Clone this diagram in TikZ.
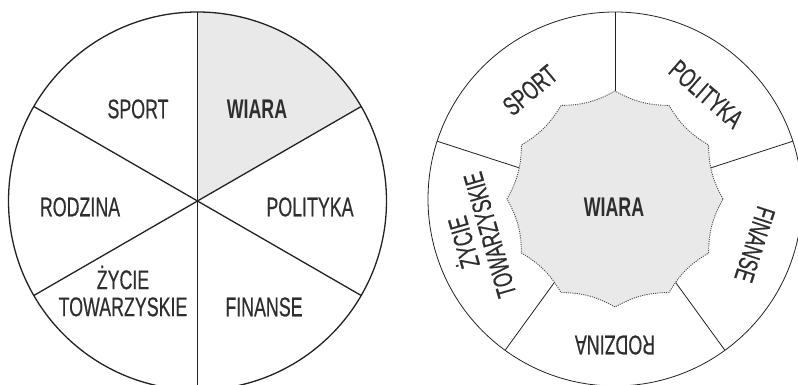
\documentclass[tikz,border=0pt]{standalone}
\usepackage{fontspec}
\setmainfont{Liberation Sans}[UprightFeatures={FakeBold=0.6}]
\usetikzlibrary{calc}
\definecolor{txt}{HTML}{2E2E2E}
\definecolor{shadegray}{HTML}{E9E9E9}
\definecolor{ln}{HTML}{222222}
\newcommand{\cnd}[1]{\scalebox{0.66}[1]{#1}}
\newcommand{\cndtwo}[2]{\scalebox{0.66}[1]{\begin{tabular}{@{}c@{}}#1\\#2\end{tabular}}}
\tikzset{
  lbl/.style={font=\fontsize{27}{27}\selectfont, text=txt, inner sep=0pt, align=center},
  blbl/.style={lbl, font=\fontsize{27}{27}\selectfont\bfseries},
  lline/.style={draw=ln, line width=1.3pt},
  rline/.style={draw=ln, line width=0.8pt},
  starshape/.style={fill=shadegray, draw=txt!85, line width=0.9pt, dash pattern=on 1.1pt off 1.1pt}
}
\begin{document}
\begin{tikzpicture}[x=1pt,y=1pt]
\useasboundingbox (0,0) rectangle (798,385);
\clip (0,0) rectangle (798,385);
\fill[white] (0,0) rectangle (798,385);
% ---------- left pie ----------
\begin{scope}[shift={(197.5,184)}]
  \coordinate (lc) at (0,0);
  \fill[shadegray] (lc) -- (30:189) arc[start angle=30, end angle=90, radius=189pt] -- cycle;
  \draw[lline] (lc) circle[radius=189pt];
  \foreach \a in {90,30,-30} \draw[lline] (\a:189) -- (\a+180:189);
\end{scope}
\node[lbl]  (lsport) at (138,276) {\cnd{SPORT}};
\node[blbl] (lwiara) at (257,276) {\cnd{WIARA}};
\node[lbl]  (lrodz)  at (80,178)  {\cnd{RODZINA}};
\node[lbl]  (lpol)   at (310,178) {\cnd{POLITYKA}};
\node[lbl]  (lzyc)   at (123,90)  {\cndtwo{ŻYCIE}{TOWARZYSKIE}};
\node[lbl]  (lfin)   at (264,78)  {\cnd{FINANSE}};
% ---------- right wheel ----------
\begin{scope}[shift={(615,186)}]
  \coordinate (rc) at (0,0);
  \draw[rline] (rc) circle[radius=187pt];
  \foreach \a in {90,18,-54,-126,162} \draw[rline] (rc) -- (\a:187);
  \filldraw[starshape] (0:108) \foreach \a in {30,60,...,330} { to[bend left=14] (\a:108) } to[bend left=14] cycle;
  \node[lbl, rotate=40]   (rsport) at (128:138) {\cnd{SPORT}};
  \node[lbl, rotate=-41]  (rpol)   at (49:139)  {\cnd{POLITYKA}};
  \node[lbl, rotate=-108] (rfin)   at (-18:147) {\cnd{FINANSE}};
  \node[lbl, rotate=180]  (rrod)   at (-90:146) {\cnd{RODZINA}};
  \node[lbl, rotate=106]  (rzyc)   at (196:142) {\cndtwo{ŻYCIE}{TOWARZYSKIE}};
  \node[blbl] (rwiara) at (-1,-8) {\cnd{WIARA}};
\end{scope}
\end{tikzpicture}
\end{document}
